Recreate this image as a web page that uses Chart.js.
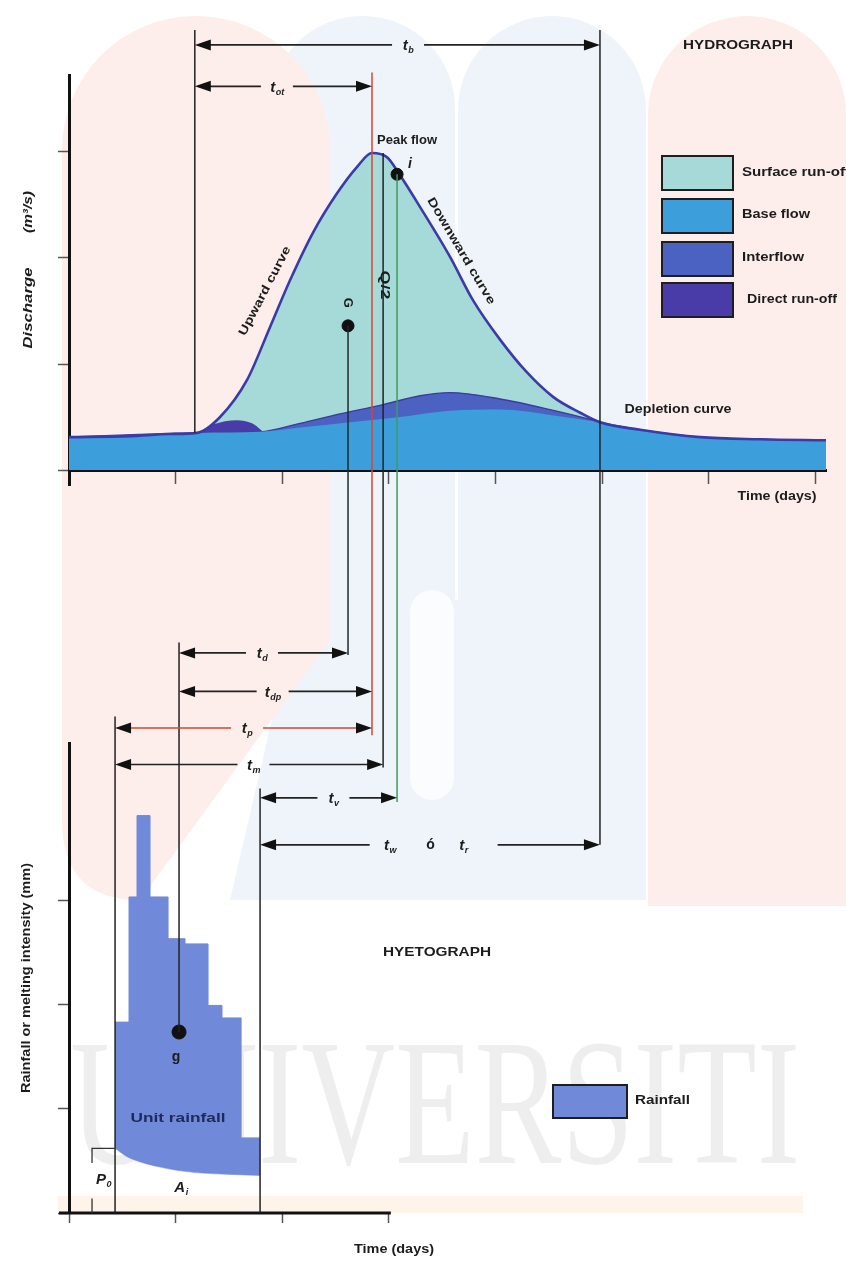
<!DOCTYPE html>
<html>
<head>
<meta charset="utf-8">
<script src="https://cdn.jsdelivr.net/npm/chart.js@4.4.1/dist/chart.umd.min.js"></script>
<style>
html,body{margin:0;padding:0;background:#fff;}
canvas{display:block;}
</style>
</head>
<body>
<canvas id="graphHydro" width="846" height="1264"></canvas>
<script>
// ---- hydrograph, time in days / discharge ----
const totalT = [0, 0.572, 0.947, 1.201, 1.417, 1.670, 1.886, 2.073, 2.289, 2.514, 2.702, 2.842, 2.983, 3.105, 3.293, 3.574, 3.790, 4.043, 4.296, 4.540, 4.794, 4.981, 5.356, 5.919, 6.482, 7.1];
const totalQ = [0.31, 0.32, 0.34, 0.35, 0.50, 0.85, 1.35, 1.79, 2.24, 2.61, 2.86, 2.99, 2.95, 2.78, 2.48, 2.01, 1.60, 1.23, 0.92, 0.69, 0.54, 0.45, 0.38, 0.31, 0.29, 0.28];
const interT = [0, 1.201, 1.792, 2.167, 2.542, 2.917, 3.293, 3.574, 4.043, 4.512, 4.916, 4.981, 5.356, 5.919, 6.482, 7.1];
const interQ = [0.31, 0.35, 0.36, 0.44, 0.53, 0.61, 0.70, 0.73, 0.67, 0.57, 0.47, 0.45, 0.38, 0.31, 0.29, 0.28];
const baseT = [0, 1.201, 1.792, 2.167, 2.636, 3.105, 3.574, 4.043, 4.512, 4.981, 5.356, 5.919, 6.482, 7.1];
const baseQ = [0.31, 0.35, 0.36, 0.40, 0.45, 0.50, 0.56, 0.57, 0.52, 0.45, 0.38, 0.31, 0.29, 0.28];
const directT = [1.201, 1.351, 1.576, 1.717, 1.811];
const directQ = [0.35, 0.43, 0.47, 0.44, 0.37];

// ---- hyetograph, rainfall blocks (left edge of each block) and losses ----
const rainT = [0.432, 0.563, 0.638, 0.760, 0.929, 1.088, 1.304, 1.435, 1.614, 1.792];
const rainR = [1.83, 3.03, 3.81, 3.03, 2.63, 2.58, 1.99, 1.87, 0.72, 0.72];
const lossT = [0.432, 0.544, 0.854, 1.163, 1.510, 1.792];
const lossR = [0.62, 0.54, 0.44, 0.39, 0.37, 0.36];

// key times
const tStart = 1.18, tEnd = 4.98, tPeak = 2.842, tHalf = 2.946, tInfl = 3.077, tCent = 2.617;
const tRainStart = 0.432, tRainEnd = 1.792, tRainCent = 1.032, tP0 = 0.216;
const centroidQ = 1.36, inflQ = 2.79, centroidR = 1.735, peakQ = 2.99;

// ticks
const xTicks = [0, 1, 2, 3, 4, 5, 6, 7];
const xRTicks = [0, 1, 2, 3];
const qTicks = [0, 1, 2, 3];
const rTicks = [0, 1, 2, 3];
const legendLabels = ['Surface run-off', 'Base flow', 'Interflow', 'Direct run-off'];

const cSurface = '#a6dad8', cBase = '#3c9fdb', cInter = '#4c62c2', cDirect = '#4a3ca8';
const cOutline = '#3a3ba8', cRain = '#7089d8';
const red = '#d8452f', green = '#3f9c58', ink = '#1c1c1c';
const FONT = '"Liberation Sans", Arial, sans-serif';

function pts(T, V) { return T.map((t, i) => ({x: t, y: V[i]})); }

function label(ctx, s, x, y, o) {
    o = o || {};
    ctx.save();
    ctx.translate(x, y);
    if (o.rot) ctx.rotate(o.rot * Math.PI / 180);
    ctx.font = o.font || ('bold 12px ' + FONT);
    ctx.fillStyle = o.color || ink;
    ctx.textBaseline = 'middle';
    ctx.textAlign = o.align || 'center';
    if (o.w) {
        let m = ctx.measureText(s).width;
        ctx.scale(o.w / m, 1);
    }
    ctx.fillText(s, 0, 0);
    ctx.restore();
}

function subLabel(ctx, main, sub, x, y, size) {
    size = size || 15;
    ctx.save();
    ctx.fillStyle = ink;
    ctx.textBaseline = 'alphabetic';
    ctx.font = 'italic bold ' + size + 'px ' + FONT;
    let w1 = ctx.measureText(main).width;
    ctx.font = 'italic bold ' + Math.round(size * 0.6) + 'px ' + FONT;
    let w2 = ctx.measureText(sub).width;
    let x0 = x - (w1 + w2) / 2;
    ctx.font = 'italic bold ' + size + 'px ' + FONT;
    ctx.fillText(main, x0, y + size * 0.35);
    ctx.font = 'italic bold ' + Math.round(size * 0.6) + 'px ' + FONT;
    ctx.fillText(sub, x0 + w1 + 0.5, y + size * 0.55);
    ctx.restore();
}

function head(ctx, x, y, dir) {
    ctx.beginPath();
    ctx.moveTo(x, y);
    ctx.lineTo(x - dir * 16, y - 5.5);
    ctx.lineTo(x - dir * 16, y + 5.5);
    ctx.closePath();
    ctx.fill();
}

function span(ctx, x1, x2, y, g1, g2, color) {
    ctx.strokeStyle = color;
    ctx.lineWidth = 1.7;
    ctx.beginPath();
    ctx.moveTo(x1 + 6, y); ctx.lineTo(g1, y);
    ctx.moveTo(g2, y); ctx.lineTo(x2 - 6, y);
    ctx.stroke();
    ctx.fillStyle = '#111';
    head(ctx, x1, y, -1);
    head(ctx, x2, y, 1);
}

function watermark(ctx) {
    ctx.save();
    // pale logo shapes, opaque pastels so overlaps stay clean
    ctx.fillStyle = '#eef4f9';
    ctx.beginPath(); ctx.roundRect(270, 16, 185, 584, [92, 92, 0, 0]); ctx.fill();
    ctx.beginPath(); ctx.roundRect(458, 16, 188, 584, [94, 94, 0, 0]); ctx.fill();
    ctx.beginPath();
    ctx.moveTo(300, 600); ctx.lineTo(646, 600); ctx.lineTo(646, 900);
    ctx.lineTo(230, 900); ctx.closePath(); ctx.fill();
    ctx.fillStyle = '#fdedeb';
    ctx.beginPath();
    ctx.moveTo(62, 150);
    ctx.arc(196, 150, 134, Math.PI, 0);
    ctx.lineTo(330, 640); ctx.lineTo(140, 900);
    ctx.quadraticCurveTo(62, 900, 62, 820);
    ctx.closePath(); ctx.fill();
    ctx.beginPath(); ctx.roundRect(648, 16, 198, 890, [99, 99, 0, 0]); ctx.fill();
    ctx.fillStyle = '#fbfcfd';
    ctx.beginPath(); ctx.roundRect(410, 590, 44, 210, 22); ctx.fill();
    // faint band above the lower time axis
    ctx.fillStyle = '#fef4ea';
    ctx.fillRect(58, 1196, 745, 17);
    // university lettering
    ctx.font = '180px "Liberation Serif", "DejaVu Serif", serif';
    ctx.fillStyle = 'rgba(0,0,0,0.065)';
    ctx.textBaseline = 'alphabetic';
    ctx.textAlign = 'left';
    let w = ctx.measureText('UNIVERSITI').width;
    ctx.translate(70, 1163);
    ctx.scale(730 / w, 1);
    ctx.fillText('UNIVERSITI', 0, 0);
    ctx.restore();
}

const hydroPlugin = {
    id: 'hydroPlugin',
    beforeDraw(chart) {
        let ctx = chart.ctx;
        ctx.save();
        ctx.fillStyle = '#fff';
        ctx.fillRect(0, 0, chart.width, chart.height);
        ctx.restore();
        watermark(ctx);
    },
    afterDatasetsDraw(chart) {
        let ctx = chart.ctx;
        let sx = chart.scales.x, sq = chart.scales.yQ, sr = chart.scales.yR;
        let X = t => sx.getPixelForValue(t);
        let Q = v => sq.getPixelForValue(v);
        let R = v => sr.getPixelForValue(v);
        ctx.save();

        // lower time axis (only as long as the rainfall part)
        ctx.strokeStyle = '#111';
        ctx.lineWidth = 3;
        ctx.beginPath();
        ctx.moveTo(X(0) - 10, R(0)); ctx.lineTo(X(3) + 2, R(0));
        ctx.stroke();

        // vertical reference lines
        let verticals = [
            [tStart, Q(4.15), Q(0.35), '#222'],
            [tEnd, Q(4.15), R(3.53), '#222'],
            [tPeak, Q(3.75), R(4.58), red],
            [tHalf, Q(peakQ), R(4.27), '#222'],
            [tInfl, Q(inflQ), R(3.94), green],
            [tCent, Q(centroidQ), R(5.35), '#1f2b2b'],
            [tRainCent, R(5.47), R(centroidR), '#222'],
            [tRainStart, R(4.76), R(0), '#222'],
            [tRainEnd, R(4.07), R(0), '#222']
        ];
        verticals.forEach(v => {
            ctx.strokeStyle = v[3];
            ctx.lineWidth = 1.5;
            ctx.beginPath();
            ctx.moveTo(X(v[0]), v[1]); ctx.lineTo(X(v[0]), v[2]);
            ctx.stroke();
        });

        // P0 bracket
        ctx.strokeStyle = '#333';
        ctx.lineWidth = 1.3;
        ctx.beginPath();
        ctx.moveTo(X(tRainStart), R(0.62)); ctx.lineTo(X(tP0), R(0.62)); ctx.lineTo(X(tP0), R(0.48));
        ctx.moveTo(X(tP0), R(0.14)); ctx.lineTo(X(tP0), R(0));
        ctx.stroke();

        // time spans
        let spans = [
            ['b', Q(4.01), tStart, tEnd, 3.18, '#222'],
            ['ot', Q(3.62), tStart, tPeak, 1.95, '#222'],
            ['d', R(5.37), tRainCent, tCent, 1.81, '#222'],
            ['dp', R(5.00), tRainCent, tPeak, 1.91, '#222'],
            ['p', R(4.65), tRainStart, tPeak, 1.67, red],
            ['m', R(4.30), tRainStart, tHalf, 1.73, '#222'],
            ['v', R(3.98), tRainEnd, tInfl, 2.48, '#222']
        ];
        spans.forEach(s => {
            let xc = X(s[4]);
            span(ctx, X(s[2]), X(s[3]), s[1], xc - 16, xc + 16, s[5]);
            subLabel(ctx, 't', s[0], xc, s[1]);
        });
        let yw = R(3.53);
        span(ctx, X(tRainEnd), X(tEnd), yw, X(2.82), X(4.02), '#222');
        subLabel(ctx, 't', 'w', X(3.01), yw);
        label(ctx, 'ó', X(3.39), yw, {font: 'bold 14px ' + FONT});
        subLabel(ctx, 't', 'r', X(3.70), yw);

        // text on the hydrograph
        label(ctx, 'HYDROGRAPH', 738, 45, {font: 'bold 13px ' + FONT, w: 110});
        label(ctx, 'Peak flow', X(tPeak) + 35, Q(peakQ) - 12, {w: 60});
        label(ctx, 'i', X(tInfl) + 13, Q(inflQ) - 10, {font: 'italic bold 14px ' + FONT});
        label(ctx, 'Upward curve', 265, 291, {rot: -62.4, w: 99});
        label(ctx, 'Downward curve', 461, 251, {rot: 59.4, w: 122});
        label(ctx, 'G', X(tCent), Q(centroidQ) - 23, {rot: 90, font: 'bold 13px ' + FONT});
        label(ctx, 'Q/2', X(tHalf) + 1, Q(1.745), {rot: 90, font: 'bold 13px ' + FONT, w: 29});
        label(ctx, 'Depletion curve', 678, 410, {w: 107});
        label(ctx, 'Time (days)', 777, 497, {w: 79});
        label(ctx, 'Discharge', 28, 308, {rot: -90, font: 'italic bold 13px ' + FONT, w: 81});
        label(ctx, '(m³/s)', 28, 212, {rot: -90, font: 'italic bold 13px ' + FONT, w: 42});

        // legend of the hydrograph
        let legendColors = [cSurface, cBase, cInter, cDirect];
        let tops = [156, 199, 242, 283];
        legendColors.forEach((c, i) => {
            ctx.fillStyle = c;
            ctx.fillRect(662, tops[i], 71, 34);
            ctx.strokeStyle = '#1e1e1e';
            ctx.lineWidth = 2;
            ctx.strokeRect(662, tops[i], 71, 34);
        });
        label(ctx, legendLabels[0], 742, 173, {align: 'left', w: 108});
        label(ctx, legendLabels[1], 742, 215, {align: 'left', w: 68});
        label(ctx, legendLabels[2], 742, 258, {align: 'left', w: 62});
        label(ctx, legendLabels[3], 747, 300, {align: 'left', w: 90});

        // text on the hyetograph
        label(ctx, 'HYETOGRAPH', 437, 953, {w: 108});
        label(ctx, 'Unit rainfall', 178, 1118, {font: 'bold 13px ' + FONT, w: 95, color: '#1d2a5a'});
        label(ctx, 'g', X(tRainCent) - 3, R(centroidR) + 25, {font: 'bold 14px ' + FONT});
        subLabel(ctx, 'P', '0', (X(tP0) + X(tRainStart)) / 2, R(0) - 34, 15);
        subLabel(ctx, 'A', 'i', 181, R(0) - 26, 15);
        label(ctx, 'Rainfall or melting intensity (mm)', 27, 978, {rot: -90, w: 230});
        label(ctx, 'Time (days)', 394, 1250, {w: 80});
        ctx.fillStyle = cRain;
        ctx.fillRect(553, 1085, 74, 33);
        ctx.strokeStyle = '#1e1e1e';
        ctx.lineWidth = 2;
        ctx.strokeRect(553, 1085, 74, 33);
        label(ctx, 'Rainfall', 635, 1101, {align: 'left', w: 55});
        ctx.restore();
    }
};

const axisGrid = {drawOnChartArea: false, drawTicks: true, tickLength: 11, tickColor: '#555', tickWidth: 1.5};

const graphHydro = new Chart('graphHydro', {
    type: 'line',
    data: {
        datasets: [
            {label: 'outline', data: pts(totalT, totalQ), xAxisID: 'x', yAxisID: 'yQ', borderColor: cOutline, borderWidth: 2.6, fill: false, order: 0},
            {label: 'Base flow', data: pts(baseT, baseQ), xAxisID: 'x', yAxisID: 'yQ', borderWidth: 0, backgroundColor: cBase, fill: 'origin', order: 1},
            {label: 'Interflow', data: pts(interT, interQ), xAxisID: 'x', yAxisID: 'yQ', borderColor: '#3d3b9e', borderWidth: 1.4, backgroundColor: cInter, fill: 'origin', order: 2},
            {label: 'Direct run-off', data: pts(directT, directQ), xAxisID: 'x', yAxisID: 'yQ', borderWidth: 0, backgroundColor: cDirect, fill: 'origin', order: 3},
            {label: 'Surface run-off', data: pts(totalT, totalQ), xAxisID: 'x', yAxisID: 'yQ', borderWidth: 0, backgroundColor: cSurface, fill: 'origin', order: 4},
            {label: 'Rainfall', data: pts(rainT, rainR), xAxisID: 'xR', yAxisID: 'yR', stepped: 'before', borderColor: cRain, borderWidth: 1, backgroundColor: cRain, fill: '+1', order: 5},
            {label: 'losses', data: pts(lossT, lossR), xAxisID: 'xR', yAxisID: 'yR', borderColor: cRain, borderWidth: 0.5, fill: false, order: 6},
            {label: 'G, i', data: [{x: tCent, y: centroidQ}, {x: tInfl, y: inflQ}], xAxisID: 'x', yAxisID: 'yQ', showLine: false, pointRadius: 6, pointBackgroundColor: '#111', pointBorderColor: '#111', order: -1},
            {label: 'g', data: [{x: tRainCent, y: centroidR}], xAxisID: 'xR', yAxisID: 'yR', showLine: false, pointRadius: 7, pointBackgroundColor: '#111', pointBorderColor: '#111', order: -1}
        ]
    },
    options: {
        responsive: false,
        animation: false,
        events: [],
        layout: {padding: {left: 58, right: 20, top: 75, bottom: 41}},
        elements: {
            point: {radius: 0},
            line: {cubicInterpolationMode: 'monotone'}
        },
        plugins: {legend: {display: false}, tooltip: {enabled: false}},
        scales: {
            x: {
                type: 'linear', min: 0, max: 7.1, position: {yQ: 0},
                afterBuildTicks: s => { s.ticks = xTicks.map(v => ({value: v})); },
                ticks: {display: false},
                grid: Object.assign({}, axisGrid, {tickLength: 12}),
                border: {color: '#111', width: 3}
            },
            xR: {
                type: 'linear', min: 0, max: 7.1, position: 'bottom',
                afterBuildTicks: s => { s.ticks = xRTicks.map(v => ({value: v})); },
                ticks: {display: false},
                grid: Object.assign({}, axisGrid, {tickLength: 10}),
                border: {display: false}
            },
            yQ: {
                type: 'linear', min: -0.1415, max: 3.7264, position: 'left', stack: 'v', stackWeight: 410, weight: 3,
                afterBuildTicks: s => { s.ticks = qTicks.map(v => ({value: v})); },
                ticks: {display: false},
                grid: axisGrid,
                border: {color: '#111', width: 3}
            },
            yGap: {
                type: 'linear', display: false, position: 'left', stack: 'v', stackWeight: 258, weight: 2
            },
            yR: {
                type: 'linear', min: 0, max: 4.506, position: 'left', stack: 'v', stackWeight: 470, weight: 1,
                afterBuildTicks: s => { s.ticks = rTicks.map(v => ({value: v})); },
                ticks: {display: false},
                grid: axisGrid,
                border: {color: '#111', width: 3}
            }
        }
    },
    plugins: [hydroPlugin]
});
</script>
</body>
</html>
